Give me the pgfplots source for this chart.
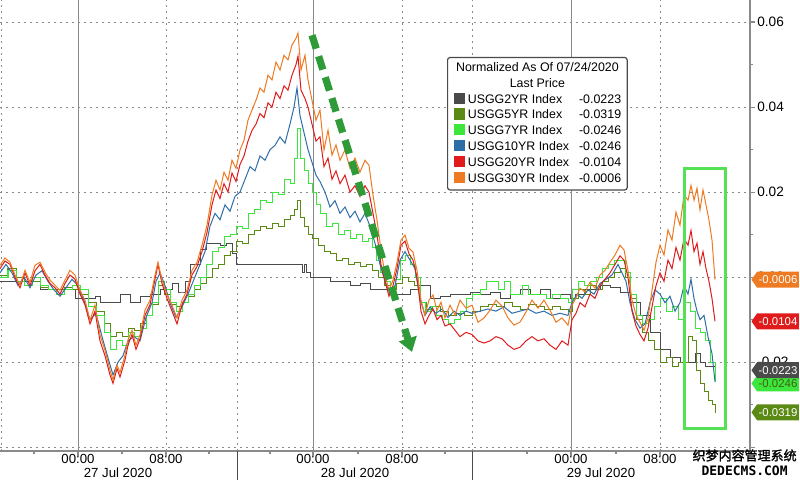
\documentclass[border=0pt]{standalone}
\usepackage{pgfplots}
\pgfplotsset{compat=1.18}
\usepackage{fontspec}
\setmainfont{Liberation Sans}
\newfontfamily\cjk[FakeBold=1.5]{Noto Sans CJK SC}
\newfontfamily\monof{DejaVu Sans Mono}
\usetikzlibrary{shapes.symbols,arrows.meta}
\definecolor{cGray}{HTML}{4A4A4A}
\definecolor{cOlive}{HTML}{5A8A14}
\definecolor{cGreen}{HTML}{3CE63C}
\definecolor{cBlue}{HTML}{2E6EA8}
\definecolor{cRed}{HTML}{E01B1B}
\definecolor{cOrange}{HTML}{EE7A22}
\definecolor{cArrow}{HTML}{2E9A38}
\definecolor{cBox}{HTML}{55E055}
\definecolor{cGrid}{HTML}{8A8A8A}
\newcommand{\sw}[1]{\textcolor{#1}{\rule[-0.3pt]{5.6pt}{5.6pt}}\hspace{1.5pt}}
\begin{document}
\begin{tikzpicture}
\begin{axis}[
  at={(0,0)}, anchor=south west,
  scale only axis, width=375pt, height=225.5pt,
  xmin=0, xmax=750, ymin=-0.0409, ymax=0.0652,
  clip=false,
  axis x line*=bottom, axis y line*=right,
  axis line style={cGrid, line width=0.6pt, -},
  xtick={78,166,313,402,571,660},
  xticklabels={00:00,08:00,00:00,08:00,00:00,08:00},
  minor xtick={34,122,209,270,358,445,527,616,704},
  xticklabel style={font=\fontsize{6.6}{7}\selectfont, inner sep=0pt, anchor=center, yshift=-1.5pt},
  ytick={-0.04,-0.02,0,0.02,0.04,0.06},
  yticklabels={,-0.02,0.00,0.02,0.04,0.06},
  minor ytick={-0.03,-0.01,0.01,0.03,0.05},
  yticklabel style={font=\fontsize{6.8}{7}\selectfont, inner sep=1pt, anchor=west},
  /pgf/number format/assume math mode=true,
  tick align=outside, major tick length=2.5pt, minor tick length=1.5pt,
  tick style={cGrid, line width=0.6pt},
  ymajorgrids, grid style={cGrid, line width=0.4pt, dash pattern=on 1pt off 2pt},
  every axis plot/.append style={line width=0.5pt},
]
% vertical grid lines
\foreach \xx in {78,313,571} {\edef\tmp{\noexpand\draw[cGrid, line width=0.5pt] (axis cs:\xx,-0.0409) -- (axis cs:\xx,0.0652);}\tmp}
\foreach \xx in {1,166,237,402,472,660} {\edef\tmp{\noexpand\draw[cGrid, line width=0.4pt, dash pattern=on 1pt off 2pt] (axis cs:\xx,-0.0409) -- (axis cs:\xx,0.0652);}\tmp}

% USGG2YR
\addplot[cGray, const plot, mark=none] table {
0 -0.0010
20 -0.0010
40 -0.0030
60 -0.0030
75 -0.0050
85 -0.0050
95 -0.0045
100 -0.0060
110 -0.0060
120 -0.0040
125 -0.0040
130 -0.0060
140 -0.0045
150 -0.0040
160 -0.0030
172 -0.0015
178 -0.0035
182 -0.0035
185 -0.0010
190 0.0030
195 0.0030
200 0.0065
206 0.0080
212 0.0080
220 0.0075
226 0.0080
232 0.0055
236 0.0030
240 0.0030
260 0.0030
280 0.0030
300 0.0030
302 0.0010
304 0.0030
306 0.0010
310 0.0000
320 0.0000
330 -0.0010
340 -0.0010
350 -0.0020
360 -0.0015
370 -0.0030
380 -0.0030
390 -0.0040
400 -0.0040
410 -0.0030
420 -0.0020
430 -0.0050
440 -0.0045
450 -0.0040
460 -0.0040
470 -0.0035
480 -0.0040
490 -0.0035
500 -0.0050
510 -0.0040
520 -0.0030
530 -0.0040
540 -0.0030
550 -0.0050
560 -0.0040
570 -0.0050
575 -0.0040
585 -0.0030
600 -0.0020
610 -0.0025
620 -0.0035
630 -0.0060
640 -0.0090
650 -0.0130
660 -0.0170
670 -0.0190
680 -0.0200
690 -0.0200
695 -0.0180
700 -0.0200
705 -0.0210
710 -0.0210
715 -0.0223
};
% USGG5YR
\addplot[cOlive, const plot, mark=none] table {
0 0.0005
8 0.0020
16 0.0000
24 -0.0020
32 -0.0010
40 -0.0025
48 -0.0030
56 -0.0030
64 -0.0025
72 -0.0030
80 -0.0040
88 -0.0060
96 -0.0080
104 -0.0110
110 -0.0140
116 -0.0130
122 -0.0140
128 -0.0120
134 -0.0125
140 -0.0110
146 -0.0090
152 -0.0065
158 -0.0020
164 -0.0040
170 -0.0065
176 -0.0070
182 -0.0060
188 -0.0045
194 -0.0030
200 -0.0015
206 0.0000
212 0.0020
218 0.0030
224 0.0050
230 0.0060
236 0.0085
242 0.0080
248 0.0100
254 0.0110
260 0.0120
266 0.0115
272 0.0125
278 0.0120
284 0.0135
290 0.0145
294 0.0160
297 0.0180
300 0.0140
304 0.0120
308 0.0100
312 0.0090
318 0.0075
324 0.0060
330 0.0055
336 0.0040
342 0.0045
348 0.0030
354 0.0035
360 0.0025
366 0.0030
372 0.0015
378 0.0000
384 -0.0020
390 -0.0030
396 -0.0015
402 0.0000
408 -0.0010
414 -0.0020
420 -0.0060
426 -0.0075
432 -0.0070
440 -0.0080
448 -0.0090
456 -0.0085
464 -0.0090
472 -0.0080
480 -0.0070
488 -0.0065
496 -0.0070
504 -0.0060
512 -0.0070
520 -0.0075
528 -0.0065
536 -0.0070
544 -0.0075
552 -0.0070
560 -0.0075
568 -0.0080
572 -0.0050
578 -0.0030
584 -0.0040
590 -0.0020
596 -0.0030
602 -0.0010
608 0.0000
614 0.0010
620 0.0020
625 0.0000
630 -0.0050
636 -0.0100
642 -0.0130
648 -0.0150
654 -0.0170
660 -0.0200
666 -0.0190
672 -0.0210
678 -0.0200
684 -0.0200
688 -0.0140
692 -0.0150
696 -0.0220
700 -0.0250
704 -0.0270
708 -0.0290
712 -0.0300
715 -0.0319
};
% USGG7YR
\addplot[cGreen, const plot, mark=none] table {
0 0.0000
8 0.0015
16 -0.0010
24 -0.0020
32 0.0000
40 -0.0020
48 -0.0030
56 -0.0040
64 -0.0030
72 -0.0020
80 -0.0030
88 -0.0070
96 -0.0090
104 -0.0130
110 -0.0170
116 -0.0150
122 -0.0160
128 -0.0130
134 -0.0140
140 -0.0120
146 -0.0090
152 -0.0060
158 -0.0010
164 -0.0030
170 -0.0060
176 -0.0080
182 -0.0060
188 -0.0040
194 -0.0020
200 0.0000
206 0.0030
212 0.0060
218 0.0070
224 0.0095
230 0.0100
236 0.0120
242 0.0115
248 0.0150
254 0.0160
260 0.0180
266 0.0175
272 0.0200
278 0.0195
284 0.0230
290 0.0220
294 0.0280
297 0.0350
300 0.0280
304 0.0250
308 0.0220
312 0.0200
316 0.0170
320 0.0150
326 0.0120
332 0.0125
338 0.0100
344 0.0110
350 0.0090
356 0.0100
362 0.0085
368 0.0090
372 0.0070
376 0.0040
380 0.0010
385 -0.0010
390 -0.0030
395 -0.0005
400 0.0040
405 0.0050
410 0.0030
415 0.0000
420 -0.0060
425 -0.0080
430 -0.0070
436 -0.0090
442 -0.0100
448 -0.0110
454 -0.0100
460 -0.0080
466 -0.0050
472 -0.0040
480 -0.0030
486 -0.0010
492 -0.0010
498 -0.0030
504 -0.0010
510 -0.0040
516 -0.0040
522 -0.0020
528 -0.0040
534 -0.0040
540 -0.0040
546 -0.0050
552 -0.0040
560 -0.0050
568 -0.0060
572 -0.0030
578 -0.0010
584 -0.0020
590 -0.0010
596 0.0000
602 0.0020
608 0.0030
614 0.0040
620 0.0040
625 0.0010
630 -0.0040
636 -0.0090
642 -0.0110
648 -0.0100
654 -0.0070
660 -0.0050
666 -0.0080
672 -0.0070
678 -0.0100
684 -0.0060
690 -0.0080
695 -0.0120
700 -0.0130
705 -0.0150
710 -0.0200
715 -0.0246
};
% USGG10YR
\addplot[cBlue, mark=none] table {
0 0.0010
6 0.0030
12 0.0010
18 -0.0020
24 0.0000
30 -0.0025
36 0.0005
42 0.0015
48 -0.0010
54 -0.0030
60 -0.0045
66 -0.0025
72 -0.0005
78 -0.0020
84 -0.0055
90 -0.0100
96 -0.0085
102 -0.0140
108 -0.0190
113 -0.0230
118 -0.0200
123 -0.0185
128 -0.0150
134 -0.0140
140 -0.0150
146 -0.0095
152 -0.0060
156 -0.0010
160 0.0010
165 -0.0020
170 -0.0060
176 -0.0095
182 -0.0070
188 -0.0040
194 -0.0005
200 0.0030
205 0.0060
210 0.0120
215 0.0150
220 0.0135
225 0.0170
230 0.0155
235 0.0190
240 0.0200
245 0.0230
250 0.0260
255 0.0250
260 0.0285
265 0.0275
270 0.0300
275 0.0310
280 0.0330
285 0.0315
290 0.0360
294 0.0400
297 0.0445
300 0.0380
304 0.0340
308 0.0300
312 0.0270
316 0.0240
320 0.0225
325 0.0200
330 0.0165
335 0.0180
340 0.0150
345 0.0165
350 0.0140
355 0.0155
360 0.0130
365 0.0150
370 0.0120
375 0.0080
380 0.0030
385 -0.0010
390 -0.0040
395 -0.0020
400 0.0040
405 0.0060
410 0.0040
415 0.0020
420 -0.0050
425 -0.0090
430 -0.0070
436 -0.0085
442 -0.0075
448 -0.0095
454 -0.0080
460 -0.0090
466 -0.0080
472 -0.0085
480 -0.0080
488 -0.0075
496 -0.0080
504 -0.0070
512 -0.0085
520 -0.0080
528 -0.0075
536 -0.0085
544 -0.0080
552 -0.0090
560 -0.0085
568 -0.0090
572 -0.0060
577 -0.0040
582 -0.0050
588 -0.0030
594 -0.0040
600 -0.0015
606 -0.0005
612 0.0005
618 0.0030
622 0.0010
626 -0.0010
630 -0.0060
635 -0.0100
640 -0.0120
645 -0.0110
650 -0.0060
655 -0.0030
660 -0.0040
665 -0.0060
670 -0.0045
675 -0.0080
680 -0.0060
684 -0.0020
688 -0.0040
691 -0.0005
694 -0.0050
697 -0.0080
700 -0.0100
704 -0.0090
708 -0.0140
712 -0.0180
715 -0.0246
};
% USGG20YR
\addplot[cRed, mark=none] table {
0 0.0020
5 0.0038
10 0.0030
15 0.0000
20 -0.0025
25 0.0010
30 -0.0020
35 0.0015
40 0.0030
45 0.0005
50 -0.0015
55 -0.0025
60 -0.0040
65 -0.0015
70 0.0005
75 -0.0005
80 -0.0040
85 -0.0065
90 -0.0110
95 -0.0080
100 -0.0150
105 -0.0185
110 -0.0230
113 -0.0250
117 -0.0215
120 -0.0235
125 -0.0195
128 -0.0160
132 -0.0135
136 -0.0170
140 -0.0145
145 -0.0090
150 -0.0065
155 -0.0005
158 0.0030
162 -0.0015
167 -0.0050
172 -0.0080
177 -0.0110
182 -0.0065
187 -0.0040
192 0.0005
197 0.0025
202 0.0060
207 0.0105
212 0.0170
216 0.0205
220 0.0185
224 0.0220
228 0.0200
232 0.0245
236 0.0225
240 0.0265
244 0.0285
248 0.0320
252 0.0345
256 0.0360
260 0.0385
264 0.0375
268 0.0410
272 0.0400
276 0.0435
280 0.0420
284 0.0450
288 0.0440
292 0.0475
296 0.0500
298 0.0520
301 0.0440
305 0.0420
308 0.0400
312 0.0360
316 0.0320
320 0.0330
324 0.0260
328 0.0280
332 0.0230
336 0.0250
340 0.0220
345 0.0240
350 0.0200
355 0.0215
360 0.0190
365 0.0215
369 0.0200
373 0.0150
377 0.0100
381 0.0030
385 -0.0010
389 -0.0045
393 -0.0020
397 0.0020
401 0.0075
405 0.0085
409 0.0055
413 0.0040
417 0.0000
421 -0.0080
425 -0.0110
429 -0.0090
433 -0.0075
437 -0.0100
441 -0.0090
445 -0.0115
450 -0.0110
455 -0.0125
460 -0.0140
466 -0.0130
472 -0.0135
478 -0.0150
484 -0.0155
490 -0.0150
496 -0.0140
502 -0.0145
508 -0.0160
514 -0.0170
520 -0.0165
526 -0.0150
532 -0.0140
538 -0.0150
544 -0.0145
550 -0.0160
556 -0.0170
562 -0.0150
568 -0.0160
572 -0.0100
576 -0.0085
580 -0.0060
585 -0.0070
590 -0.0040
595 -0.0050
600 -0.0020
605 -0.0005
610 0.0010
615 0.0030
620 0.0050
624 0.0040
628 0.0000
632 -0.0080
636 -0.0115
640 -0.0135
644 -0.0150
648 -0.0120
652 -0.0070
656 -0.0020
660 0.0010
664 -0.0010
668 0.0040
672 0.0020
676 0.0070
680 0.0040
684 0.0090
688 0.0075
691 0.0110
694 0.0060
697 0.0080
700 0.0030
703 0.0060
706 0.0020
709 -0.0010
712 -0.0050
715 -0.0104
};
% USGG30YR
\addplot[cOrange, mark=none] table {
0 0.0028
5 0.0045
10 0.0035
15 0.0005
20 -0.0019
25 0.0016
30 -0.0012
35 0.0028
40 0.0035
45 0.0012
50 -0.0007
55 -0.0019
60 -0.0031
65 -0.0007
70 0.0016
75 0.0005
80 -0.0031
85 -0.0054
90 -0.0101
95 -0.0066
100 -0.0136
105 -0.0172
110 -0.0219
113 -0.0242
117 -0.0207
120 -0.0224
125 -0.0184
128 -0.0148
132 -0.0125
136 -0.0160
140 -0.0136
145 -0.0078
150 -0.0054
155 0.0005
158 0.0035
162 -0.0007
167 -0.0042
172 -0.0066
177 -0.0096
182 -0.0054
187 -0.0031
192 0.0016
197 0.0035
202 0.0075
207 0.0122
212 0.0193
216 0.0228
220 0.0205
224 0.0247
228 0.0228
232 0.0275
236 0.0256
240 0.0299
244 0.0322
248 0.0369
252 0.0393
256 0.0416
260 0.0445
264 0.0435
268 0.0475
272 0.0464
276 0.0506
280 0.0487
284 0.0522
288 0.0511
292 0.0546
296 0.0562
298 0.0574
301 0.0487
305 0.0522
308 0.0464
312 0.0416
316 0.0369
320 0.0393
324 0.0299
328 0.0346
332 0.0287
336 0.0311
340 0.0275
345 0.0299
350 0.0256
355 0.0280
360 0.0247
365 0.0275
369 0.0263
373 0.0193
377 0.0134
381 0.0064
385 0.0005
389 -0.0031
393 -0.0007
397 0.0035
401 0.0087
405 0.0099
409 0.0068
413 0.0059
417 0.0016
421 -0.0054
425 -0.0089
429 -0.0054
433 -0.0042
437 -0.0078
441 -0.0059
445 -0.0096
450 -0.0066
455 -0.0089
460 -0.0054
466 -0.0073
472 -0.0066
478 -0.0106
484 -0.0096
490 -0.0078
496 -0.0054
502 -0.0068
508 -0.0096
514 -0.0113
520 -0.0106
526 -0.0082
532 -0.0054
538 -0.0073
544 -0.0054
550 -0.0078
556 -0.0106
562 -0.0096
568 -0.0113
572 -0.0066
576 -0.0049
580 -0.0026
585 -0.0035
590 -0.0012
595 -0.0026
600 0.0005
605 0.0016
610 0.0035
615 0.0052
620 0.0075
624 0.0064
628 0.0016
632 -0.0054
636 -0.0089
640 -0.0106
644 -0.0125
648 -0.0096
652 -0.0031
656 0.0035
660 0.0075
664 0.0052
668 0.0111
672 0.0087
676 0.0153
680 0.0122
684 0.0193
688 0.0181
691 0.0216
694 0.0181
697 0.0209
700 0.0158
703 0.0205
706 0.0170
709 0.0134
712 0.0087
715 -0.0006
};

% annotations
\draw[cBox, line width=1.5pt] (axis cs:684,0.0256) rectangle (axis cs:725,-0.0355);
\draw[cArrow, line width=3.6pt, dash pattern=on 7pt off 4pt, -{Triangle[length=7pt,width=9pt]}] (axis cs:312,0.0569) -- (axis cs:412,-0.0176);

\coordinate (tO) at (axis cs:751,-0.0006);
\coordinate (tR) at (axis cs:751,-0.0104);
\coordinate (tG) at (axis cs:751,-0.0219);
\coordinate (tL) at (axis cs:751,-0.0250);
\coordinate (tV) at (axis cs:751,-0.0318);
\coordinate (leg) at (axis cs:447,0.0518);
\coordinate (d1) at (axis cs:118,-0.0409);
\coordinate (d2) at (axis cs:355,-0.0409);
\coordinate (d3) at (axis cs:601,-0.0409);
\coordinate (s1) at (axis cs:237,-0.0409);
\coordinate (s2) at (axis cs:472,-0.0409);
\coordinate (wm) at (axis cs:797,-0.0409);
\end{axis}

% date labels and separators
\foreach \c/\t in {d1/27 Jul 2020, d2/28 Jul 2020, d3/29 Jul 2020}
  \node[font=\fontsize{6.6}{7}\selectfont, inner sep=0pt, anchor=center] at ([yshift=-11pt]\c) {\t};
\draw[cGray, line width=0.5pt] (s1) -- ++(0,-14.5pt);
\draw[cGray, line width=0.5pt] (s2) -- ++(0,-14.5pt);

% legend
\node[draw=cGray, line width=0.6pt, fill=white, rounded corners=1.2pt, inner xsep=3pt, inner ysep=1.5pt, anchor=north west,
  font=\fontsize{6.2}{7.9}\selectfont] at (leg) {%
  \begin{tabular}{@{}l@{\hspace{5pt}}l@{}}
  \multicolumn{2}{@{}c@{}}{Normalized As Of 07/24/2020}\\
  \multicolumn{2}{@{}c@{}}{Last Price}\\
  \sw{cGray}USGG2YR Index & -0.0223\\
  \sw{cOlive}USGG5YR Index & -0.0319\\
  \sw{cGreen}USGG7YR Index & -0.0246\\
  \sw{cBlue}USGG10YR Index & -0.0246\\
  \sw{cRed}USGG20YR Index & -0.0104\\
  \sw{cOrange}USGG30YR Index & -0.0006
  \end{tabular}};

% value tags
\tikzset{tag/.style={shape=signal, signal to=west, signal pointer angle=110, anchor=west, inner xsep=0.8pt, inner ysep=1pt,
  minimum height=8pt, font=\fontsize{5.7}{6.2}\selectfont, text height=4.2pt, text depth=0.3pt}}
\node[tag, fill=cOrange, text=white] at (tO) {-0.0006};
\node[tag, fill=cRed, text=white] at (tR) {-0.0104};
\node[tag, fill=cGreen, text=cOlive!70!black] at (tL) {-0.0246};
\node[tag, fill=cGray, text=white] at (tG) {-0.0223};
\node[tag, fill=cOlive, text=white] at (tV) {-0.0319};

% watermark
\node[anchor=north east, inner sep=0pt, align=center, font=\fontsize{6.5}{7.8}\selectfont] at ([yshift=1pt]wm) {{\cjk 织梦内容管理系统}\\[-0.5pt]{\monof\bfseries DEDECMS.COM}};

\pgfresetboundingbox
\useasboundingbox (0,-14.5pt) rectangle (400pt,225.5pt);
\end{tikzpicture}
\end{document}
